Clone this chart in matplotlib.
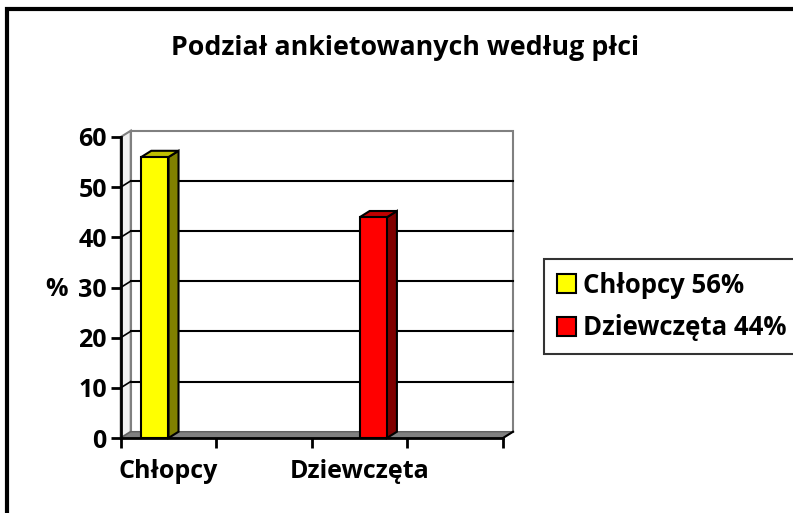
import matplotlib.pyplot as plt
from matplotlib.patches import Polygon, Rectangle, Patch

plt.rcParams['font.family'] = ['Open Sans', 'DejaVu Sans']
plt.rcParams['font.weight'] = 'bold'

categories = ["Chłopcy", "Dziewczęta"]
series_names = ["Chłopcy 56%", "Dziewczęta 44%"]
values = [56, 44]
front_colors = ["#FFFF00", "#FF0000"]
side_colors = ["#808000", "#800000"]
top_colors = ["#BFBF00", "#C00000"]
yticks = [0, 10, 20, 30, 40, 50, 60]

W, H = 793, 513
fig = plt.figure(figsize=(W / 100, H / 100), dpi=100)

# plot area in pixels: x 120.7..503, y 137..438
ax = fig.add_axes([120.7 / W, 1 - 438 / H, (503 - 120.7) / W, (438 - 137) / H])
ax.set_xlim(0, 4)
ax.set_ylim(0, 60)

dx, dy = 0.105, 1.25   # 3D depth offset in data units
ymax = 60
xmax = 4

# back wall and side wall
ax.add_patch(Polygon([(dx, dy), (xmax + dx, dy), (xmax + dx, ymax + dy), (dx, ymax + dy)],
                     closed=True, facecolor="white", edgecolor="#808080", lw=1.5,
                     zorder=1, clip_on=False))
ax.add_patch(Polygon([(0, 0), (dx, dy), (dx, ymax + dy), (0, ymax)],
                     closed=True, facecolor="#F0F0F0", edgecolor="#808080", lw=1.5,
                     zorder=1, clip_on=False))

# gridlines on the walls
for v in yticks[1:-1]:
    ax.plot([dx, xmax + dx], [v + dy, v + dy], color="black", lw=1.5, zorder=2, clip_on=False)
    ax.plot([0, dx], [v, v + dy], color="black", lw=1.2, zorder=2, clip_on=False)

# floor
ax.add_patch(Polygon([(0, 0), (xmax, 0), (xmax + dx, dy), (dx, dy)],
                     closed=True, facecolor="#808080", edgecolor="#606060", lw=1,
                     zorder=2, clip_on=False))
ax.plot([xmax, xmax + dx], [0, dy], color="black", lw=1.5, zorder=3, clip_on=False)

# bars: series i sits in category i, offset left/right of the category centre
cat_pos = [i * 2 + 0.5 for i in range(len(categories))]
bw = 0.285
offsets = [-bw / 2, bw / 2]
for i, v in enumerate(values):
    xc = cat_pos[i] + offsets[i]
    x0, x1 = xc - bw / 2, xc + bw / 2
    ax.bar(xc, v, width=bw, color=front_colors[i], edgecolor="black", lw=1.5, zorder=5)
    ax.add_patch(Polygon([(x1, 0), (x1 + dx, dy), (x1 + dx, v + dy), (x1, v)], closed=True,
                         facecolor=side_colors[i], edgecolor="black", lw=1.5, zorder=4,
                         clip_on=False))
    ax.add_patch(Polygon([(x0, v), (x1, v), (x1 + dx, v + dy), (x0 + dx, v + dy)], closed=True,
                         facecolor=top_colors[i], edgecolor="black", lw=1.5, zorder=4,
                         clip_on=False))

# axes
for s in ["top", "right"]:
    ax.spines[s].set_visible(False)
for s in ["left", "bottom"]:
    ax.spines[s].set_linewidth(2)
    ax.spines[s].set_zorder(6)
ax.set_facecolor("none")
ax.set_yticks(yticks)
ax.set_yticklabels([str(t) for t in yticks], fontsize=18, fontweight="bold")
ax.set_xticks(range(xmax + 1))
ax.set_xticklabels([])
ax.set_xticks(cat_pos, minor=True)
ax.set_xticklabels(categories, minor=True, fontsize=18, fontweight="bold")
ax.tick_params(axis="both", which="major", direction="out", length=7, width=2, color="black")
ax.tick_params(axis="y", pad=3)
ax.tick_params(axis="x", which="minor", length=0, pad=15)

fig.text(56 / W, 1 - 290 / H, "%", fontsize=18, fontweight="bold", ha="center", va="center")
fig.text(405 / W, 1 - 48 / H, "Podział ankietowanych według płci", fontsize=19.3,
         fontweight="bold", ha="center", va="center")

# outer chart border (clipped on right and bottom)
fig.patches.append(Rectangle((7 / W, -0.1), 1.0, 1 - 9 / H + 0.1, transform=fig.transFigure,
                             fill=False, edgecolor="black", lw=3))

handles = [Patch(facecolor=c, edgecolor="black", lw=1.5) for c in front_colors]
leg = fig.legend(handles, series_names, loc="upper left",
                 bbox_to_anchor=(544 / W, 1 - 259 / H), frameon=True, fancybox=False,
                 prop={"size": 18.5, "weight": "bold"}, handlelength=0.75, handleheight=0.75,
                 handletextpad=0.25, labelspacing=0.6, borderpad=0.5, borderaxespad=0)
leg.get_frame().set_edgecolor("black")
leg.get_frame().set_linewidth(1.5)

fig.savefig("out.png", dpi=100)
